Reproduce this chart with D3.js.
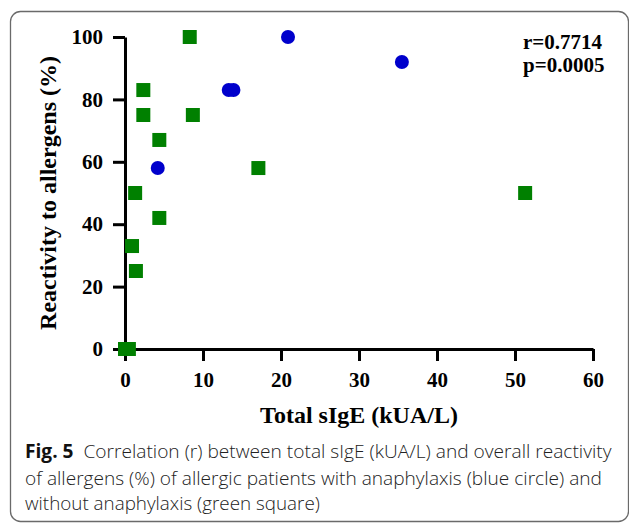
<!DOCTYPE html>
<html>
<head>
<meta charset="utf-8">
<script src="https://cdn.jsdelivr.net/npm/d3@7"></script>
<style>
  html, body { margin: 0; padding: 0; background: #fff; }
  svg { display: block; }
</style>
</head>
<body>
<svg id="chart" width="629" height="523"></svg>
<script>
// values
const anaX = [20.9, 35.5, 13.3, 13.9, 4.2];          // with anaphylaxis (blue circle)
const anaY = [100, 92, 83, 83, 58];
const nonX = [8.3, 2.35, 2.35, 8.7, 4.4, 17.1, 1.3, 51.3, 4.4, 0.9, 1.4, 0, 0.5]; // without (green square)
const nonY = [100, 83, 75, 75, 67, 58, 50, 50, 42, 33, 25, 0, 0];
const xTicks = [0, 10, 20, 30, 40, 50, 60];
const yTicks = [0, 20, 40, 60, 80, 100];
const stats = ['r=0.7714', 'p=0.0005'];
const captionLines = [
    ['Fig. 5', '  Correlation (r) between total sIgE (kUA/L) and overall reactivity'],
    ['', 'of allergens (%) of allergic patients with anaphylaxis (blue circle) and'],
    ['', 'without anaphylaxis (green square)']
];

const svg = d3.select('#chart');
const plot = { left: 125, right: 593, top: 37, bottom: 349 };
const serif = '"Liberation Serif", "Times New Roman", serif';

// panel frame
svg.append('rect')
    .attr('x', 10.5).attr('y', 11.5)
    .attr('width', 618).attr('height', 510)
    .attr('rx', 10).attr('ry', 10)
    .attr('fill', 'none').attr('stroke', '#6a6a6a').attr('stroke-width', 1.3);

const x = d3.scaleLinear().domain([0, 60]).range([plot.left, plot.right]);
const y = d3.scaleLinear().domain([0, 100]).range([plot.bottom, plot.top]);

const styleAxis = g => {
    g.select('.domain').attr('stroke-width', 3);
    g.selectAll('.tick line').attr('stroke-width', 3);
    g.selectAll('.tick text')
        .attr('font-family', serif).attr('font-weight', 'bold')
        .attr('font-size', 21).attr('fill', '#000');
};

svg.append('g')
    .attr('transform', `translate(0,${plot.bottom})`)
    .call(d3.axisBottom(x).tickValues(xTicks).tickSize(12).tickSizeOuter(0).tickPadding(11))
    .call(styleAxis);

svg.append('g')
    .attr('transform', `translate(${plot.left},0)`)
    .call(d3.axisLeft(y).tickValues(yTicks).tickSize(12).tickSizeOuter(0).tickPadding(10))
    .call(styleAxis);

// axis titles
svg.append('text')
    .attr('x', (plot.left + plot.right) / 2).attr('y', 423)
    .attr('text-anchor', 'middle')
    .attr('font-family', serif).attr('font-weight', 'bold').attr('font-size', 24)
    .text('Total sIgE (kUA/L)');

svg.append('text')
    .attr('transform', `translate(56,${(plot.top + plot.bottom) / 2}) rotate(-90)`)
    .attr('text-anchor', 'middle')
    .attr('font-family', serif).attr('font-weight', 'bold').attr('font-size', 24)
    .text('Reactivity to allergens (%)');

// points
const sq = 14;
svg.append('g').selectAll('rect')
    .data(d3.zip(nonX, nonY))
    .join('rect')
    .attr('x', d => x(d[0]) - sq / 2).attr('y', d => y(d[1]) - sq / 2)
    .attr('width', sq).attr('height', sq)
    .attr('fill', '#008000');

svg.append('g').selectAll('circle')
    .data(d3.zip(anaX, anaY))
    .join('circle')
    .attr('cx', d => x(d[0])).attr('cy', d => y(d[1]))
    .attr('r', 7)
    .attr('fill', '#0000cc');

// correlation stats
svg.append('g').selectAll('text')
    .data(stats)
    .join('text')
    .attr('x', 523).attr('y', (d, i) => 49 + i * 23)
    .attr('font-family', serif).attr('font-weight', 'bold').attr('font-size', 21)
    .text(d => d);

// caption, each line squeezed to the width it has in the figure
const capBase = [458, 484.5, 510];
const capEnd = [612, 602, 320];
captionLines.forEach((parts, i) => {
    const t = svg.append('text')
        .attr('font-family', '"Open Sans", "Noto Sans", sans-serif')
        .attr('font-size', 19).attr('fill', '#222')
        .attr('xml:space', 'preserve')
        .style('white-space', 'pre');
    if (parts[0]) t.append('tspan').attr('font-weight', 'bold').attr('fill', '#111').text(parts[0]);
    t.append('tspan').attr('font-weight', 300).text(parts[1]);
    const w = t.node().getBBox().width;
    const k = (capEnd[i] - 25) / w;
    t.attr('transform', `translate(25,${capBase[i]}) scale(${k},1)`);
});
</script>
</body>
</html>
